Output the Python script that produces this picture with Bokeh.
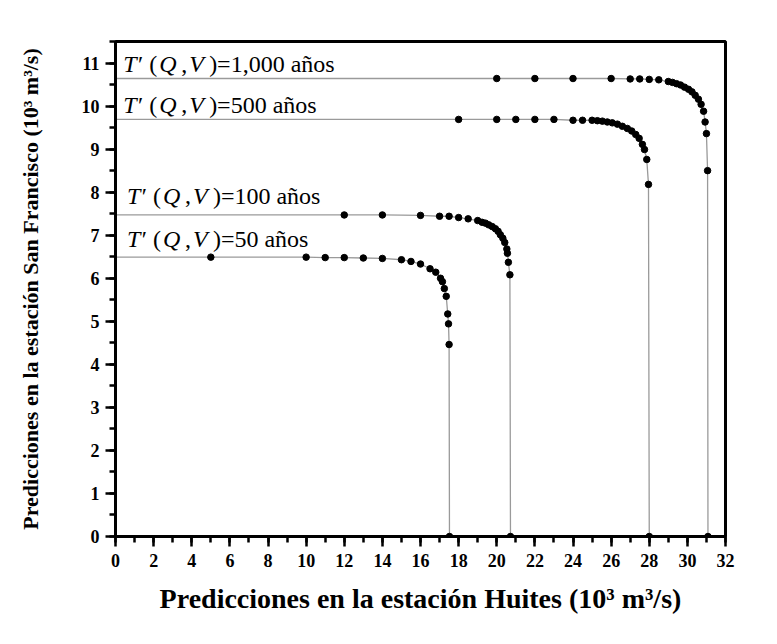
from bokeh.plotting import figure
from bokeh.models import Range1d, SingleIntervalTicker, ColumnDataSource
from bokeh.core.properties import value
from bokeh.embed import file_html
from bokeh.resources import INLINE

# ---- data (10^3 m^3/s) ----
x50 = [5, 10, 11, 12, 13, 14, 15, 15.5, 16, 16.5, 16.8, 17.05, 17.15, 17.25, 17.35, 17.43, 17.47, 17.5]
y50 = [6.49, 6.49, 6.48, 6.48, 6.47, 6.46, 6.43, 6.39, 6.33, 6.22, 6.14, 6.0, 5.92, 5.76, 5.58, 5.17, 4.94, 4.46]
x50_end = 17.52

x100 = [12, 14, 16, 17, 17.5, 18, 18.5, 19, 19.23, 19.41, 19.58, 19.76, 19.93, 20.07, 20.19, 20.32,
        20.42, 20.53, 20.56, 20.61, 20.69]
y100 = [7.47, 7.47, 7.46, 7.44, 7.44, 7.41, 7.38, 7.34, 7.30, 7.28, 7.24, 7.20, 7.15, 7.09, 7.01, 6.93,
        6.83, 6.68, 6.58, 6.37, 6.08]
x100_end = 20.72

x500 = [18, 20, 21, 22, 23, 24, 24.5, 25.0, 25.28, 25.54, 25.8, 26.06, 26.33, 26.59, 26.85, 27.08,
        27.29, 27.47, 27.64, 27.75, 27.87, 27.96]
y500 = [9.69, 9.69, 9.69, 9.69, 9.69, 9.67, 9.67, 9.67, 9.66, 9.65, 9.63, 9.61, 9.58, 9.53, 9.48, 9.42,
        9.34, 9.25, 9.11, 8.99, 8.76, 8.18]
x500_end = 28.0

x1000 = [20, 22, 24, 26, 27, 27.5, 28, 28.5, 29.0, 29.22, 29.43, 29.64, 29.85, 30.06, 30.24, 30.41,
         30.58, 30.72, 30.85, 30.93, 31.0, 31.06]
y1000 = [10.64, 10.64, 10.64, 10.64, 10.63, 10.63, 10.62, 10.61, 10.57, 10.55, 10.52, 10.49, 10.44,
         10.39, 10.33, 10.25, 10.16, 10.04, 9.88, 9.63, 9.36, 8.5]
x1000_end = 31.08

label_years = ["1,000", "500", "100", "50"]
label_x = [0.4, 0.4, 0.6, 0.6]
label_y = [10.97, 10.03, 7.92, 6.91]

x_title = "Predicciones en la estación Huites (10³ m³/s)"
y_title = "Predicciones en la estación San Francisco (10³ m³/s)"

SERIF = "Liberation Serif"

p = figure(width=761, height=628, x_range=Range1d(0, 32), y_range=Range1d(0, 11.5),
           output_backend="svg", toolbar_location=None,
           min_border_left=115, min_border_right=36, min_border_top=41, min_border_bottom=92)
p.background_fill_color = "white"
p.border_fill_color = "white"
p.xgrid.grid_line_color = None
p.ygrid.grid_line_color = None
p.outline_line_color = "black"
p.outline_line_width = 3
p.outline_line_alpha = 1

for xs, ys, xe in [(x50, y50, x50_end), (x100, y100, x100_end), (x500, y500, x500_end), (x1000, y1000, x1000_end)]:
    lx = [0.0] + xs + [xe]
    ly = [ys[0]] + ys + [0.0]
    p.line(lx, ly, line_color="#9a9a9a", line_width=1.3)
    p.scatter(xs + [xe], ys + [0.0], size=6.5, fill_color="black", line_color="black")

# labels built from pieces (italic variables)
ital = {"x": [], "y": [], "t": [], "o": []}
up = {"x": [], "y": [], "t": [], "o": []}
for yr, lx, ly in zip(label_years, label_x, label_y):
    for t, o in [("T′", 0), ("Q", 36), ("V", 66)]:
        ital["x"].append(lx); ital["y"].append(ly); ital["t"].append(t); ital["o"].append(o)
    for t, o in [("(", 26), (",", 58), (")=" + yr + " años", 86)]:
        up["x"].append(lx); up["y"].append(ly); up["t"].append(t); up["o"].append(o)

for d, style in [(ital, "italic"), (up, "normal")]:
    src = ColumnDataSource(d)
    p.text(x="x", y="y", text="t", x_offset="o", source=src, text_font=value(SERIF),
           text_font_style=style, text_font_size="24px", text_color="black",
           text_baseline="alphabetic", text_align="left")

p.xaxis.ticker = SingleIntervalTicker(interval=2, num_minor_ticks=2)
p.yaxis.ticker = SingleIntervalTicker(interval=1, num_minor_ticks=2)
p.xaxis.axis_label = x_title
p.yaxis.axis_label = y_title

for ax in (p.xaxis, p.yaxis):
    ax.axis_line_width = 3
    ax.axis_line_color = "black"
    ax.major_tick_line_width = 2.5
    ax.minor_tick_line_width = 2.5
    ax.major_tick_in = 0
    ax.minor_tick_in = 0
    ax.major_tick_out = 10
    ax.minor_tick_out = 6
    ax.major_label_text_font = SERIF
    ax.major_label_text_font_style = "bold"
    ax.major_label_text_font_size = "18px"
    ax.major_label_text_color = "black"
    ax.axis_label_text_font = SERIF
    ax.axis_label_text_font_style = "bold"
    ax.axis_label_text_color = "black"

p.xaxis.major_label_standoff = 7
p.yaxis.major_label_standoff = 6
p.xaxis.axis_label_text_font_size = "28px"
p.yaxis.axis_label_text_font_size = "22px"
p.xaxis.axis_label_standoff = 13
p.yaxis.axis_label_standoff = 36

open("out.html", "w").write(file_html(p, INLINE))
